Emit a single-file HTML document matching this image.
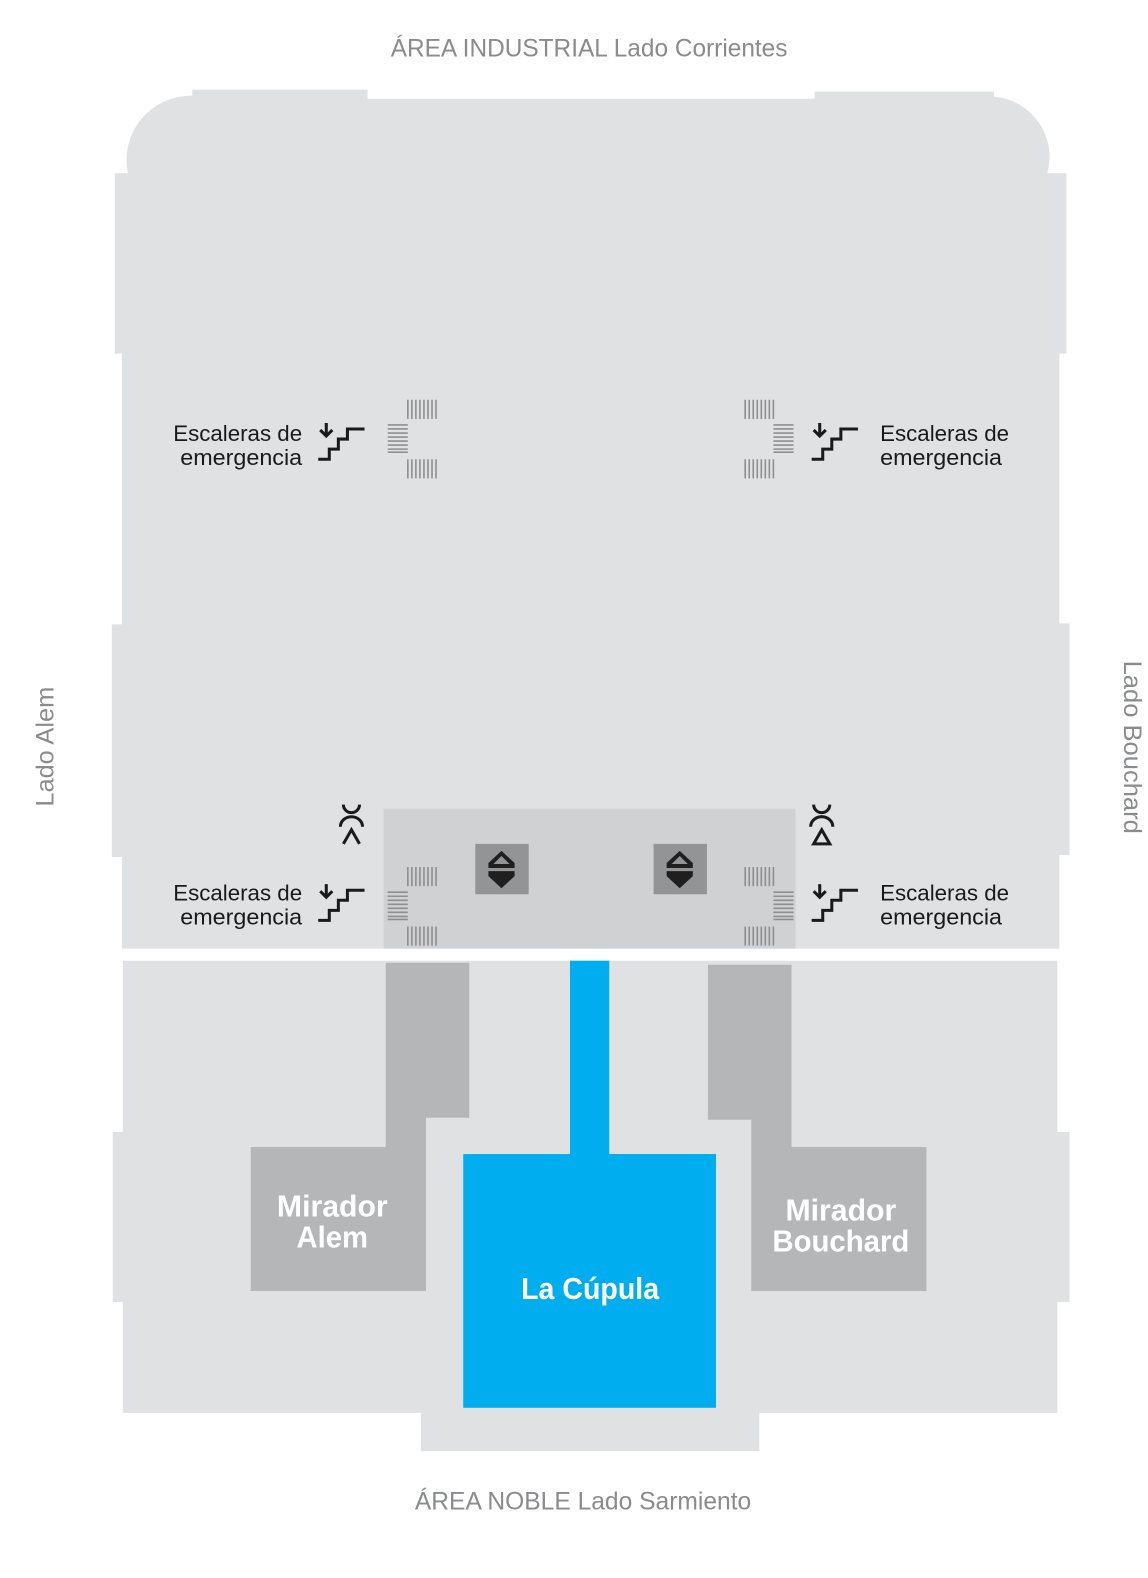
<!DOCTYPE html>
<html><head><meta charset="utf-8"><style>
html,body{margin:0;padding:0;background:#fff;}
svg{display:block;}
text{font-family:"Liberation Sans Narrow","Liberation Sans",sans-serif;}
</style></head><body>
<svg width="1148" height="1578" viewBox="0 0 1140 1567" preserveAspectRatio="none" xmlns="http://www.w3.org/2000/svg">
<defs>
<g id="stair" fill="none" stroke="#1a1a1a" stroke-width="3">
<path d="M316,456 H327 V446 H336 V436 H345 V426 H362"/>
<path d="M324,420 V433 M318,427 L324,433 L330,427"/>
</g>
<g id="hv" stroke="#8e8f91" stroke-width="1.6">
<path d="M405,0 v19 M409,0 v19 M413,0 v19 M417,0 v19 M421,0 v19 M425,0 v19 M429,0 v19 M433,0 v19"/>
</g>
<g id="hh" stroke="#8e8f91" stroke-width="1.6">
<path d="M0,0 h20 M0,4 h20 M0,8 h20 M0,12 h20 M0,16 h20 M0,20 h20 M0,24 h20 M0,27 h20"/>
</g>
<g id="elev">
<rect x="0" y="0" width="53" height="50" fill="#939496"/>
<path d="M26,7 L39,19 L39,24 L13,24 L13,19 Z" fill="#1f1f1f"/>
<path d="M18,20 L26,12 L34,20 Z" fill="#939496"/>
<path d="M13,27 L39,27 L39,32 L26,44 L13,32 Z" fill="#1f1f1f"/>
</g>
</defs>
<rect width="1140" height="1567" fill="#fff"/>
<g fill="#e0e1e3">
<path d="M121,172 L127,172 A64,64 0 0 1 191,95 L191,89 L365,89 L365,98 L809,98 L809,91 L987,91 L987,96 A60,60 0 0 1 1040,172 L1059,172 L1059,351 L1052,351 L1052,619 L1062,619 L1062,849 L1052,849 L1052,942 L121,942 L121,851 L111,851 L111,620 L121,620 L121,351 L114,351 L114,172 Z"/>
<path d="M122,954 L1050,954 L1050,1124 L1062,1124 L1062,1293 L1050,1293 L1050,1403 L754,1403 L754,1441 L418,1441 L418,1403 L122,1403 L122,1293 L112,1293 L112,1124 L122,1124 Z"/>
</g>
<path d="M148,110 L152,103 M1022,103 L1026,110" stroke="#fff" stroke-width="1.5"/>
<rect x="381" y="803" width="409" height="139" fill="#d0d1d3"/>
<use href="#elev" x="472" y="838"/>
<use href="#elev" x="649" y="838"/>
<path d="M383,956 H466 V1110 H423 V1282 H249 V1139 H383 Z" fill="#b5b6b8"/>
<path d="M703,958 H786 V1139 H920 V1282 H746 V1112 H703 Z" fill="#b5b6b8"/>
<rect x="566" y="954" width="39" height="193" fill="#00aeef"/>
<rect x="460" y="1146" width="251" height="252" fill="#00aeef"/>

<use href="#hv" x="0" y="397"/><use href="#hh" x="385" y="422"/><use href="#hv" x="0" y="456"/>
<use href="#hv" x="335" y="397"/><use href="#hh" x="768" y="422"/><use href="#hv" x="335" y="456"/>
<use href="#hv" x="0" y="861"/><use href="#hh" x="385" y="886"/><use href="#hv" x="0" y="920"/>
<use href="#hv" x="335" y="861"/><use href="#hh" x="768" y="886"/><use href="#hv" x="335" y="920"/>

<use href="#stair"/>
<use href="#stair" x="490"/>
<use href="#stair" y="458"/>
<use href="#stair" x="490" y="458"/>

<g fill="none" stroke="#1a1a1a" stroke-width="3">
<path d="M341,799 A8,8 0 0 0 357,799"/>
<path d="M338,821 A11,10 0 0 1 360,821"/>
<path d="M341,838 L349,824 L357,838"/>
<path d="M808,799 A8,8 0 0 0 824,799"/>
<path d="M805,821 A11,10 0 0 1 827,821"/>
<path d="M808,838 L816,824 L824,838 Z"/>
</g>

<g font-size="22" fill="#1a1a1a">
<text x="300" y="438" text-anchor="end" textLength="128" lengthAdjust="spacingAndGlyphs">Escaleras de</text>
<text x="300" y="462" text-anchor="end" textLength="121" lengthAdjust="spacingAndGlyphs">emergencia</text>
<text x="874" y="438" textLength="128" lengthAdjust="spacingAndGlyphs">Escaleras de</text>
<text x="874" y="462" textLength="121" lengthAdjust="spacingAndGlyphs">emergencia</text>
<text x="300" y="894" text-anchor="end" textLength="128" lengthAdjust="spacingAndGlyphs">Escaleras de</text>
<text x="300" y="918" text-anchor="end" textLength="121" lengthAdjust="spacingAndGlyphs">emergencia</text>
<text x="874" y="894" textLength="128" lengthAdjust="spacingAndGlyphs">Escaleras de</text>
<text x="874" y="918" textLength="121" lengthAdjust="spacingAndGlyphs">emergencia</text>
</g>

<g font-size="25" fill="#8a8b8d">
<text x="388" y="56" textLength="394" lengthAdjust="spacingAndGlyphs">ÁREA INDUSTRIAL Lado Corrientes</text>
<text x="412" y="1499" textLength="334" lengthAdjust="spacingAndGlyphs">ÁREA NOBLE Lado Sarmiento</text>
<text transform="translate(53,801) rotate(-90)" textLength="119" lengthAdjust="spacingAndGlyphs">Lado Alem</text>
<text transform="translate(1116,656) rotate(90)" textLength="172" lengthAdjust="spacingAndGlyphs">Lado Bouchard</text>
</g>

<g font-size="30" font-weight="bold" fill="#fff" text-anchor="middle">
<text x="330" y="1208" textLength="110" lengthAdjust="spacingAndGlyphs">Mirador</text>
<text x="330" y="1239" textLength="71" lengthAdjust="spacingAndGlyphs">Alem</text>
<text x="835" y="1212" textLength="110" lengthAdjust="spacingAndGlyphs">Mirador</text>
<text x="835" y="1243" textLength="136" lengthAdjust="spacingAndGlyphs">Bouchard</text>
<text x="586" y="1290" textLength="137" lengthAdjust="spacingAndGlyphs">La Cúpula</text>
</g>
</svg>
</body></html>
